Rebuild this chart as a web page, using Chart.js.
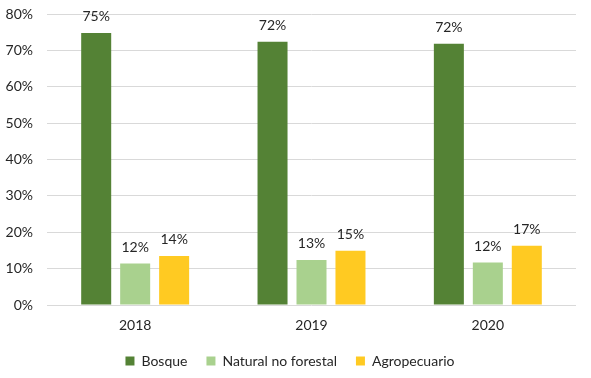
<!DOCTYPE html>
<html><head><meta charset="utf-8">
<script src="https://cdn.jsdelivr.net/npm/chart.js@4"></script>
<style>html,body{margin:0;padding:0;background:#fff}#w{width:591px;height:378px}</style>
</head><body><div id="w"><canvas id="c"></canvas></div>
<script>
const categories = ['2018', '2019', '2020'];
const bosque = [74.8, 72.4, 71.8];
const naturalNoForestal = [11.4, 12.4, 11.7];
const agropecuario = [13.5, 14.9, 16.3];
const bosqueLabels = ['75%', '72%', '72%'];
const naturalLabels = ['12%', '13%', '12%'];
const agroLabels = ['14%', '15%', '17%'];
const yTicks = [0, 10, 20, 30, 40, 50, 60, 70, 80];

const FONT = 'Lato, "Open Sans", sans-serif';
const TXT = '#262626';

const labelPlugin = {
  id: 'barLabels',
  afterDatasetsDraw(chart) {
    const ctx = chart.ctx;
    ctx.save();
    ctx.font = '14px ' + FONT;
    ctx.fillStyle = TXT;
    ctx.textAlign = 'center';
    ctx.textBaseline = 'middle';
    chart.data.datasets.forEach((ds, i) => {
      const meta = chart.getDatasetMeta(i);
      meta.data.forEach((bar, j) => {
        ctx.fillText(ds.labels[j], bar.x, bar.y - 16);
      });
    });
    ctx.restore();
  }
};

new Chart(document.getElementById('c'), {
  type: 'bar',
  data: {
    labels: categories,
    datasets: [
      {label: 'Bosque', data: bosque, labels: bosqueLabels, backgroundColor: '#548235'},
      {label: 'Natural no forestal', data: naturalNoForestal, labels: naturalLabels, backgroundColor: '#A9D18E'},
      {label: 'Agropecuario', data: agropecuario, labels: agroLabels, backgroundColor: '#FFCA22'}
    ]
  },
  options: {
    responsive: true,
    maintainAspectRatio: false,
    animation: false,
    devicePixelRatio: 1,
    layout: {padding: {top: 14, left: 4, right: 15, bottom: 0}},
    datasets: {bar: {categoryPercentage: 0.663, barPercentage: 0.77}},
    plugins: {
      tooltip: {enabled: false},
      legend: {
        position: 'bottom',
        labels: {
          font: {family: FONT, size: 14},
          color: TXT,
          boxWidth: 9,
          boxHeight: 9,
          padding: 19
        }
      }
    },
    scales: {
      x: {
        grid: {display: false, drawTicks: false},
        border: {display: false},
        ticks: {font: {family: FONT, size: 14}, color: TXT, padding: 12},
        afterFit(s) { s.height = 30; }
      },
      y: {
        min: 0, max: 80,
        afterBuildTicks(s) { s.ticks = yTicks.map(v => ({value: v})); },
        grid: {color: '#D9D9D9', lineWidth: 1, drawTicks: false},
        border: {display: false},
        ticks: {font: {family: FONT, size: 14}, color: TXT, padding: 14,
          callback: v => v + '%'},
        afterFit(s) { s.width = 43; s.paddingTop = 0; s.paddingBottom = 0; }
      }
    }
  },
  plugins: [labelPlugin]
});
</script></body></html>
